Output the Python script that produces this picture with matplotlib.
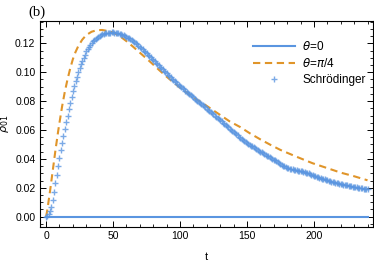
import numpy as np
import matplotlib.pyplot as plt
from matplotlib.ticker import MultipleLocator

plt.rcParams['font.family'] = ['Liberation Sans', 'DejaVu Sans']
plt.rcParams['mathtext.fontset'] = 'dejavusans'

# theta = 0 : flat line
t_zero = [0, 240]
rho_zero = [0.0, 0.0]

# theta = pi/4 : dashed curve
t_quarter = [0, 1, 2, 3, 4, 5, 6, 7, 8, 9, 10, 12, 14, 16, 18, 20, 22, 24, 27, 30,
             34, 38, 42, 46, 50, 55, 60, 65, 70, 77.6, 85, 90, 95, 102.5, 110, 117,
             125, 130, 137, 145, 152, 160, 168, 175, 187, 199, 210, 220, 230, 240]
rho_quarter = [0.0, 0.005, 0.0115, 0.018, 0.025, 0.032, 0.039, 0.046, 0.0525, 0.059,
               0.065, 0.0765, 0.0865, 0.095, 0.1025, 0.109, 0.114, 0.118, 0.1225, 0.1257,
               0.128, 0.1291, 0.1292, 0.1285, 0.1275, 0.125, 0.1215, 0.1176, 0.1135, 0.1073,
               0.101, 0.0969, 0.093, 0.0875, 0.0825, 0.0785, 0.0735, 0.0704, 0.066, 0.062,
               0.0578, 0.0535, 0.0495, 0.0462, 0.0415, 0.037, 0.0336, 0.0305, 0.028, 0.0252]

# Schrodinger markers, one per unit of t (t = 0..240)
rho_schr = [
    0.0000, 0.0005, 0.0020, 0.0038, 0.0070, 0.0115, 0.0170, 0.0230, 0.0290, 0.0350,
    0.0405, 0.0460, 0.0510, 0.0560, 0.0610, 0.0655, 0.0700, 0.0745, 0.0790, 0.0830,
    0.0870, 0.0905, 0.0940, 0.0970, 0.1000, 0.1030, 0.1055, 0.1080, 0.1100, 0.1120,
    0.1145, 0.1160, 0.1175, 0.1190, 0.1205, 0.1215, 0.1225, 0.1233, 0.1240, 0.1247,
    0.1253, 0.1258, 0.1262, 0.1265, 0.1268, 0.1270, 0.1272, 0.1273, 0.1274, 0.1275,
    0.1275, 0.1274, 0.1273, 0.1271, 0.1269, 0.1266, 0.1263, 0.1259, 0.1255, 0.1251,
    0.1246, 0.1240, 0.1234, 0.1228, 0.1221, 0.1214, 0.1207, 0.1199, 0.1192, 0.1184,
    0.1176, 0.1167, 0.1158, 0.1149, 0.1140, 0.1131, 0.1122, 0.1112, 0.1103, 0.1093,
    0.1084, 0.1075, 0.1066, 0.1056, 0.1047, 0.1038, 0.1029, 0.1020, 0.1010, 0.1001,
    0.0992, 0.0983, 0.0974, 0.0965, 0.0956, 0.0947, 0.0939, 0.0930, 0.0921, 0.0913,
    0.0905, 0.0897, 0.0889, 0.0881, 0.0873, 0.0865, 0.0857, 0.0849, 0.0841, 0.0833,
    0.0825, 0.0817, 0.0810, 0.0802, 0.0794, 0.0787, 0.0779, 0.0771, 0.0764, 0.0756,
    0.0748, 0.0740, 0.0732, 0.0724, 0.0716, 0.0708, 0.0700, 0.0692, 0.0684, 0.0676,
    0.0668, 0.0660, 0.0651, 0.0643, 0.0635, 0.0626, 0.0618, 0.0610, 0.0601, 0.0593,
    0.0585, 0.0577, 0.0570, 0.0562, 0.0555, 0.0547, 0.0540, 0.0532, 0.0525, 0.0517,
    0.0510, 0.0504, 0.0498, 0.0492, 0.0486, 0.0480, 0.0474, 0.0468, 0.0462, 0.0456,
    0.0450, 0.0445, 0.0439, 0.0434, 0.0428, 0.0423, 0.0417, 0.0412, 0.0406, 0.0401,
    0.0395, 0.0389, 0.0383, 0.0377, 0.0371, 0.0365, 0.0360, 0.0354, 0.0349, 0.0343,
    0.0338, 0.0335, 0.0332, 0.0329, 0.0327, 0.0325, 0.0323, 0.0321, 0.0319, 0.0317,
    0.0315, 0.0313, 0.0311, 0.0308, 0.0305, 0.0302, 0.0299, 0.0296, 0.0292, 0.0289,
    0.0285, 0.0282, 0.0278, 0.0275, 0.0271, 0.0268, 0.0264, 0.0261, 0.0258, 0.0255,
    0.0252, 0.0249, 0.0246, 0.0243, 0.0240, 0.0238, 0.0235, 0.0233, 0.0230, 0.0228,
    0.0226, 0.0224, 0.0222, 0.0220, 0.0218, 0.0216, 0.0214, 0.0212, 0.0210, 0.0208,
    0.0206, 0.0205, 0.0203, 0.0201, 0.0199, 0.0197, 0.0196, 0.0194, 0.0192, 0.0190,
    0.0189]
t_schr = np.arange(len(rho_schr))

blue = '#5a95e0'
orange = '#e0952a'

fig = plt.figure(figsize=(3.74, 2.63), dpi=100)
ax = fig.add_axes([0.106, 0.137, 0.891, 0.783])

ax.plot(t_zero, rho_zero, color=blue, lw=1.5, label=r'$\theta$=0', zorder=3)
ax.plot(t_quarter, rho_quarter, color=orange, lw=1.5, ls=(0, (3.5, 2.2)),
        label=r'$\theta$=$\pi$/4', zorder=2)
ax.plot(t_schr, rho_schr, ls='none', marker='+', ms=4.8, mew=1.0, color=blue,
        alpha=0.8, label='Schrödinger', zorder=4)

ax.set_xlim(-4.8, 244)
ax.set_ylim(-0.0071, 0.1354)
ax.xaxis.set_major_locator(MultipleLocator(50))
ax.xaxis.set_minor_locator(MultipleLocator(10))
ax.yaxis.set_major_locator(MultipleLocator(0.02))
ax.yaxis.set_minor_locator(MultipleLocator(0.005))
ax.yaxis.set_major_formatter(plt.FuncFormatter(lambda v, p: f'{v:.2f}'))
ax.tick_params(which='both', direction='in', top=True, right=True, labelsize=7.5, pad=3)
ax.tick_params(which='major', length=4, width=0.7)
ax.tick_params(which='minor', length=2, width=0.6)
for s in ax.spines.values():
    s.set_linewidth(0.8)

ax.set_xlabel('t', fontsize=8)
ax.xaxis.set_label_coords(0.5, -0.12)
ax.set_ylabel(r'$\rho_{01}$', fontsize=8)
ax.yaxis.set_label_coords(-0.085, 0.5)
fig.text(0.075, 0.955, '(b)', fontsize=10.5, family='Liberation Serif', va='center')

ax.legend(loc='upper right', bbox_to_anchor=(1.01, 0.96), frameon=False, fontsize=8.5,
          handlelength=3.6, numpoints=1, handletextpad=0.6, labelspacing=0.35)

fig.savefig('out.png', dpi=100)
